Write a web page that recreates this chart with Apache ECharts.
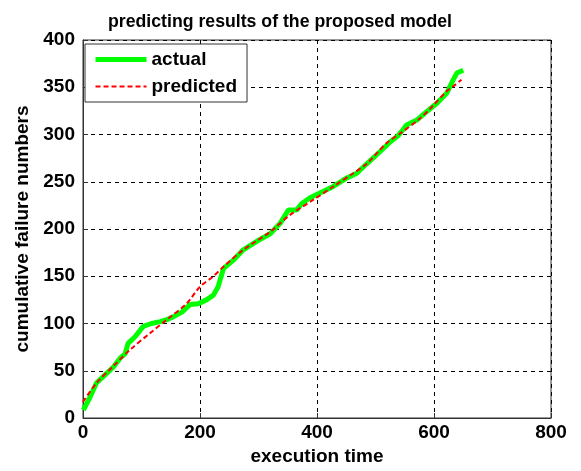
<!DOCTYPE html>
<html><head><meta charset="utf-8">
<script src="https://cdn.jsdelivr.net/npm/echarts@6/dist/echarts.min.js"></script>
<style>html,body{margin:0;padding:0;background:#fff}#c{width:581px;height:471px}</style>
</head><body><div id="c"></div>
<script>
const actualX = [0.5, 12, 23, 35, 52, 63, 72, 77, 89, 103, 117, 132, 143, 154, 169, 183, 197, 211, 223, 231, 240, 257, 274, 297, 320, 337, 351, 365, 374, 388, 405, 428, 451, 468, 485, 508, 525, 539, 547, 553, 570, 587, 605, 622, 633, 639, 650];
const actualY = [8.5, 22, 37, 44, 54, 63, 68, 79, 86, 97, 100, 102, 104, 107, 112, 120, 121, 125, 130, 139, 158, 167, 178, 187, 195, 206, 220, 220, 227, 233, 238, 245, 254, 259, 269, 282, 292, 299, 305, 310, 315, 324, 333, 344, 358, 365, 368];
const predX = [0, 23, 52, 80, 115, 143, 177, 200, 223, 240, 274, 320, 354, 394, 428, 462, 485, 519, 542, 576, 599, 622, 633, 647];
const predY = [17, 37, 55, 72, 90, 104, 121, 139, 150, 160, 178, 197, 215, 231, 245, 259, 269, 291, 301, 317, 331, 346, 351, 358];
const xTicks = [0, 200, 400, 600, 800];
const yTicks = [0, 50, 100, 150, 200, 250, 300, 350, 400];

const F = '"Liberation Sans", Arial, sans-serif';
const chart = echarts.init(document.getElementById('c'));
chart.setOption({
  animation: false,
  backgroundColor: '#fff',
  title: {
    text: 'predicting results of the proposed model',
    left: 275, top: 8, textAlign: 'center',
    textStyle: {fontFamily: F, fontSize: 17.7, fontWeight: 'bold', color: '#000'}
  },
  grid: {left: 83, top: 40, right: 30, bottom: 53, show: true, borderColor: '#333', borderWidth: 1, backgroundColor: 'transparent'},
  legend: {
    left: 85, top: 44, orient: 'vertical', itemWidth: 51, itemHeight: 14, itemGap: 8,
    padding: [6, 10, 6, 8],
    borderColor: '#333', borderWidth: 1, backgroundColor: '#fff',
    itemStyle: {opacity: 0},
    textStyle: {fontFamily: F, fontSize: 19, fontWeight: 'bold', color: '#000'},
    data: [
      {name: 'actual', lineStyle: {color: '#00ff00', width: 5, type: 'solid'}},
      {name: 'predicted', lineStyle: {color: '#ff0000', width: 2, type: [5, 3]}}
    ]
  },
  xAxis: {
    type: 'value', min: 0, max: 800, interval: 200,
    name: 'execution time', nameLocation: 'middle', nameGap: 25,
    nameTextStyle: {fontFamily: F, fontSize: 19, fontWeight: 'bold', color: '#000'},
    axisLine: {lineStyle: {color: '#333'}},
    axisTick: {inside: true, length: 5, lineStyle: {color: '#333'}},
    axisLabel: {fontFamily: F, fontSize: 19, fontWeight: 'bold', color: '#000', margin: 5,
      formatter: v => xTicks.includes(v) ? String(v) : ''},
    splitLine: {lineStyle: {color: '#000', type: [4, 4], width: 1}}
  },
  yAxis: {
    type: 'value', min: 0, max: 400, interval: 50,
    name: 'cumulative failure numbers', nameLocation: 'middle', nameGap: 46,
    nameTextStyle: {fontFamily: F, fontSize: 19, fontWeight: 'bold', color: '#000'},
    axisLine: {show: true, lineStyle: {color: '#333'}},
    axisTick: {show: true, inside: true, length: 5, lineStyle: {color: '#333'}},
    axisLabel: {fontFamily: F, fontSize: 19, fontWeight: 'bold', color: '#000', margin: 8,
      formatter: v => yTicks.includes(v) ? String(v) : ''},
    splitLine: {lineStyle: {color: '#000', type: [4, 4], width: 1}}
  },
  series: [
    {name: 'actual', type: 'line', showSymbol: false, symbol: 'none',
     data: actualX.map((x, i) => [x, actualY[i]]),
     lineStyle: {color: '#00ff00', width: 5}, itemStyle: {color: '#00ff00'}, z: 2},
    {name: 'predicted', type: 'line', showSymbol: false, symbol: 'none', smooth: 0.3,
     data: predX.map((x, i) => [x, predY[i]]),
     lineStyle: {color: '#ff0000', width: 2, type: [5, 3]}, itemStyle: {color: '#ff0000'}, z: 3}
  ]
});
</script></body></html>
